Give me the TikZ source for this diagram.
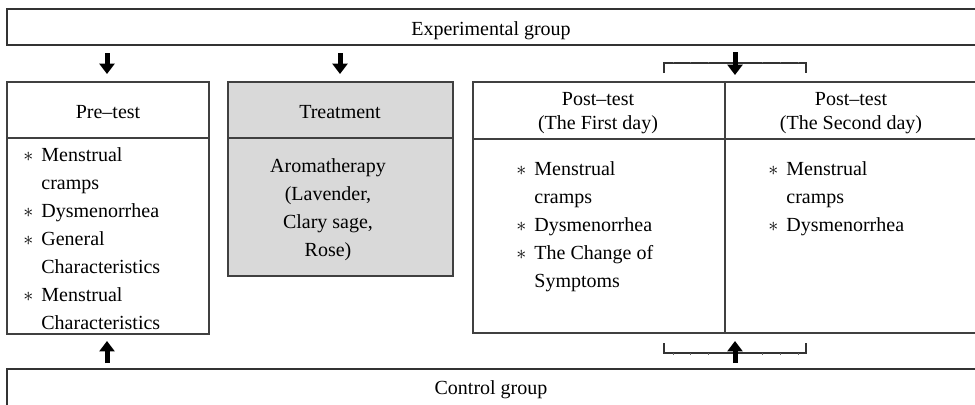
\documentclass[tikz,border=0pt]{standalone}
\usepackage{fontspec}
\setmainfont{Liberation Serif}
\usetikzlibrary{positioning,calc}
\usetikzlibrary{arrows.meta}

\tikzset{
  box/.style={draw=black!75, line width=0.7pt},
  grp/.style={draw=black!80, line width=0.8pt},
  barrow/.style={line width=2.5pt, -{Triangle[width=7.5pt,length=5.2pt]}},
  brk/.style={draw=black!80, line width=0.6pt},
  tick/.style={draw=black!60, line width=0.35pt},
}

\begin{document}
\begin{tikzpicture}[x=0.5pt,y=-0.5pt,font=\fontsize{10}{14}\selectfont]
\useasboundingbox (0,0) rectangle (975,404);

% group boxes (open to the right and bottom)
\draw[grp] (7,9) rectangle (985,45);
\draw[grp] (7,369) rectangle (985,420);
\node[anchor=base] (exp) at (491,35) {Experimental group};
\node[anchor=base] (ctl) at (491,394) {Control group};

% pre-test, treatment, post-test
\draw[box] (7,82) rectangle (209,334);
\draw[box] (7,138) -- (209,138);
\draw[box,fill=gray!30] (228,82) rectangle (453,276);
\draw[box] (228,138) -- (453,138);
\draw[box] (473,82) rectangle (985,333);
\draw[box] (473,139) -- (985,139);
\draw[box] (725,82) -- (725,333);

\node[anchor=base] (pre) at (108,118) {Pre--test};
\node[anchor=base] (trt) at (340,118) {Treatment};
\node[anchor=base] (post1) at (598,105) {Post--test};
\node[anchor=base] (day1)  at (598,129) {(The First day)};
\node[anchor=base] (post2) at (851,105) {Post--test};
\node[anchor=base] (day2)  at (851,129) {(The Second day)};

\node[anchor=north west,inner sep=0] (prelist) at (23,141.4)
  {\begin{tabular}{@{}c@{\hspace{4pt}}l@{}}
   $\ast$ & Menstrual\\ & cramps\\ $\ast$ & Dysmenorrhea\\
   $\ast$ & General\\ & Characteristics\\
   $\ast$ & Menstrual\\ & Characteristics
   \end{tabular}};
\node[anchor=north,inner sep=0] (trtlist) at (328,152.4)
  {\begin{tabular}{@{}c@{}}
   Aromatherapy\\(Lavender,\\Clary sage,\\Rose)
   \end{tabular}};
\node[anchor=north west,inner sep=0] (post1list) at (516,155.4)
  {\begin{tabular}{@{}c@{\hspace{4pt}}l@{}}
   $\ast$ & Menstrual\\ & cramps\\ $\ast$ & Dysmenorrhea\\
   $\ast$ & The Change of\\ & Symptoms
   \end{tabular}};
\node[anchor=north west,inner sep=0] (post2list) at (768,155.4)
  {\begin{tabular}{@{}c@{\hspace{4pt}}l@{}}
   $\ast$ & Menstrual\\ & cramps\\ $\ast$ & Dysmenorrhea
   \end{tabular}};

% brackets over and under the post-tests
\draw[brk] (664,73) -- (664,63) -- (806,63) -- (806,73);
\draw[brk] (664,343) -- (664,353) -- (806,353) -- (806,343);
\foreach \x in {673,690,708,762,780,798}{
  \draw[tick] (\x,63) -- (\x,61.5);
  \draw[tick] (\x,353) -- (\x,354.5);}

% block arrows
\coordinate (top1) at (107,53);  \coordinate (tip1) at (107,74);
\coordinate (top2) at (340,53);  \coordinate (tip2) at (340,74);
\coordinate (top3) at (735,52);  \coordinate (tip3) at (735,75);
\coordinate (top4) at (107,363); \coordinate (tip4) at (107,341);
\coordinate (top5) at (735,363); \coordinate (tip5) at (735,341);
\foreach \i in {1,...,5}{\draw[barrow] (top\i) -- (tip\i);}
\end{tikzpicture}
\end{document}
